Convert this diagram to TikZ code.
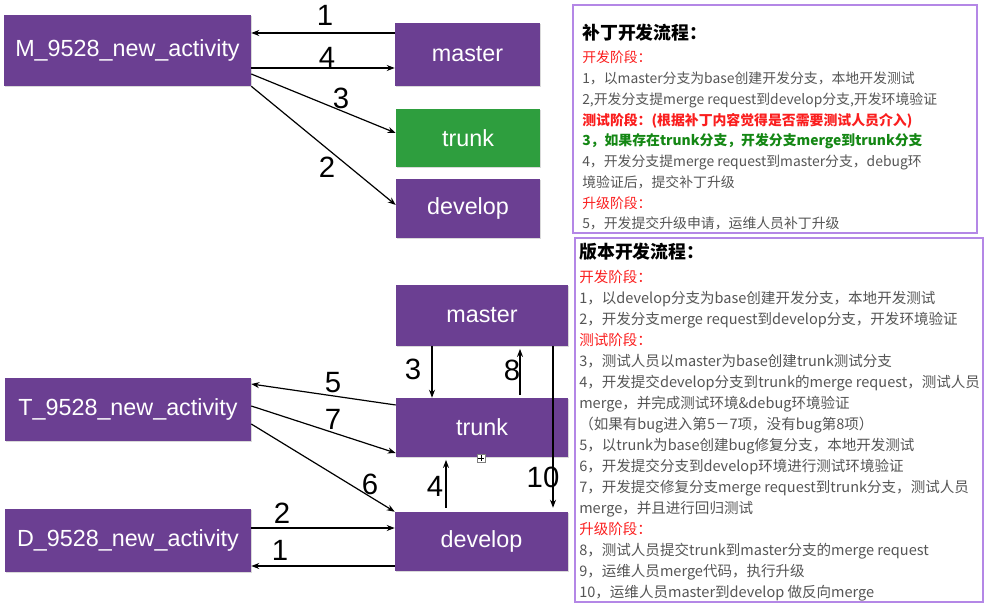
\documentclass[tikz,border=0pt]{standalone}
\usepackage{fontspec}
\setmainfont{Noto Sans CJK SC}
\newfontfamily\boxfont{Liberation Sans}
\usetikzlibrary{arrows.meta,positioning,calc,shadows}

\definecolor{branchpurple}{RGB}{107,63,146}
\definecolor{trunkgreen}{RGB}{46,158,62}
\definecolor{panelline}{RGB}{180,135,230}
\definecolor{notegray}{RGB}{85,85,85}
\definecolor{notered}{RGB}{250,30,30}
\definecolor{notegreen}{RGB}{20,135,20}

\begin{document}
\begin{tikzpicture}[x=0.75pt, y=-0.75pt,
	br/.style={fill=branchpurple, text=white, font=\boxfont\fontsize{17.5}{20}\selectfont, inner sep=0pt,
		drop shadow={shadow xshift=0.8pt, shadow yshift=-0.8pt, opacity=0.3}},
	num/.style={font=\boxfont\fontsize{22}{24}\selectfont, inner sep=0pt},
	flow/.style={-{Stealth[length=6pt,width=4.5pt]}, line width=0.9pt},
	panel/.style={draw=panelline, line width=1.8pt},
	ttl/.style={anchor=west, inner sep=0pt, font=\bfseries\fontsize{13.4}{16}\selectfont},
	note/.style={anchor=north west, inner sep=0pt, align=left, text=notegray}]
	\useasboundingbox (0,0) rectangle (998,605);

	\node[br, minimum width=185.25pt, minimum height=53.25pt] (mact) at (127.5,50.5) {M\_9528\_new\_activity};
	\node[br, minimum width=108.75pt, minimum height=47.25pt] (pmaster) at (467.5,54.5) {master};
	\node[br, fill=trunkgreen, minimum width=108pt, minimum height=43.5pt] (ptrunk) at (468,138) {trunk};
	\node[br, minimum width=108pt, minimum height=44.25pt] (pdevelop) at (468,208.5) {develop};

	\draw[flow] (pmaster.west |- 0,33) -- (mact.east |- 0,33);
	\draw[flow] (mact.east |- 0,68) -- (pmaster.west |- 0,68);
	\draw[flow] (mact.east |- 0,74) -- (ptrunk.west |- 0,133);
	\draw[flow] (mact.south east) -- (pdevelop.west |- 0,205);
	\node[num] (p1) at (325,15) {1};
	\node[num] (p4) at (327,57) {4};
	\node[num] (p3) at (341,98) {3};
	\node[num] (p2) at (327,167) {2};

	\node[br, minimum width=129pt, minimum height=45.75pt] (vmaster) at (482,315.5) {master};
	\node[br, minimum width=184.5pt, minimum height=47.25pt] (tact) at (128,409.5) {T\_9528\_new\_activity};
	\node[br, minimum width=129pt, minimum height=44.25pt] (vtrunk) at (482,427.5) {trunk};
	\node[br, minimum width=184.5pt, minimum height=47.25pt] (dact) at (128,540.5) {D\_9528\_new\_activity};
	\node[br, minimum width=129.75pt, minimum height=44.25pt] (vdevelop) at (481.5,541.5) {develop};
	\node[draw=gray, fill=white, line width=0.4pt, minimum size=6pt, inner sep=0pt] (grip) at (481,458) {};
	\draw[line width=0.4pt] ([xshift=1.2pt]grip.west) -- ([xshift=-1.2pt]grip.east);
	\draw[line width=0.4pt] ([yshift=-1.2pt]grip.north) -- ([yshift=1.2pt]grip.south);

	\draw[flow] (vmaster.south -| 432,0) -- (vtrunk.north -| 432,0);
	\draw[flow, shorten <=2pt, shorten >=2pt] (vtrunk.north -| 520,0) -- (vmaster.south -| 520,0);
	\draw[flow, shorten >=3pt] (vmaster.south -| 553,0) -- (vdevelop.north -| 553,0);
	\draw[flow] (vtrunk.west |- 0,405) -- (tact.east |- 0,384);
	\draw[flow] (tact.east |- 0,406) -- (vtrunk.west |- 0,453);
	\draw[flow] (tact.east |- 0,424) -- (vdevelop.north west);
	\draw[flow, shorten <=3pt, shorten >=2pt] (vdevelop.north -| 446,0) -- (vtrunk.south -| 446,0);
	\draw[flow] (dact.east |- 0,528) -- (vdevelop.west |- 0,528);
	\draw[flow] (vdevelop.west |- 0,566) -- (dact.east |- 0,566);
	\node[num] (v3) at (413,369) {3};
	\node[num] (v8) at (512,370) {8};
	\node[num] (v10) at (543,477) {10};
	\node[num] (v5) at (333,383) {5};
	\node[num] (v7) at (333,419) {7};
	\node[num] (v6) at (370,484) {6};
	\node[num] (v4) at (435,486) {4};
	\node[num] (v2) at (282,513) {2};
	\node[num] (v1) at (280,550) {1};

	\draw[panel] (573,5) rectangle (977,233);
	\draw[panel] (575,238) rectangle (983,602);

	\node[ttl] (ptitle) at (582,33) {补丁开发流程：};
	\node[note, font=\fontsize{10.4}{15.56}\selectfont] (psteps) at (582,50.8) {%
		\textcolor{notered}{开发阶段：}\\
		1，以master分支为base创建开发分支，本地开发测试\\
		2,开发分支提merge request到develop分支,开发环境验证\\
		\textcolor{notered}{\bfseries 测试阶段：(根据补丁内容觉得是否需要测试人员介入)}\\
		\textcolor{notegreen}{\bfseries 3，如果存在trunk分支，开发分支merge到trunk分支}\\
		4，开发分支提merge request到master分支，debug环\\
		境验证后，提交补丁升级\\
		\textcolor{notered}{升级阶段：}\\
		5，开发提交升级申请，运维人员补丁升级};

	\node[ttl] (vtitle) at (579,252) {版本开发流程：};
	\node[note, font=\fontsize{10.9}{15.75}\selectfont] (vsteps) at (579,270.2) {%
		\textcolor{notered}{开发阶段：}\\
		1，以develop分支为base创建开发分支，本地开发测试\\
		2，开发分支merge request到develop分支，开发环境验证\\
		\textcolor{notered}{测试阶段：}\\
		3，测试人员以master为base创建trunk测试分支\\
		4，开发提交develop分支到trunk的merge request，测试人员\\
		merge，并完成测试环境\&debug环境验证\\
		（如果有bug进入第5－7项，没有bug第8项）\\
		5，以trunk为base创建bug修复分支，本地开发测试\\
		6，开发提交分支到develop环境进行测试环境验证\\
		7，开发提交修复分支merge request到trunk分支，测试人员\\
		merge，并且进行回归测试\\
		\textcolor{notered}{升级阶段：}\\
		8，测试人员提交trunk到master分支的merge request\\
		9，运维人员merge代码，执行升级\\
		10，运维人员master到develop 做反向merge};
\end{tikzpicture}
\end{document}
